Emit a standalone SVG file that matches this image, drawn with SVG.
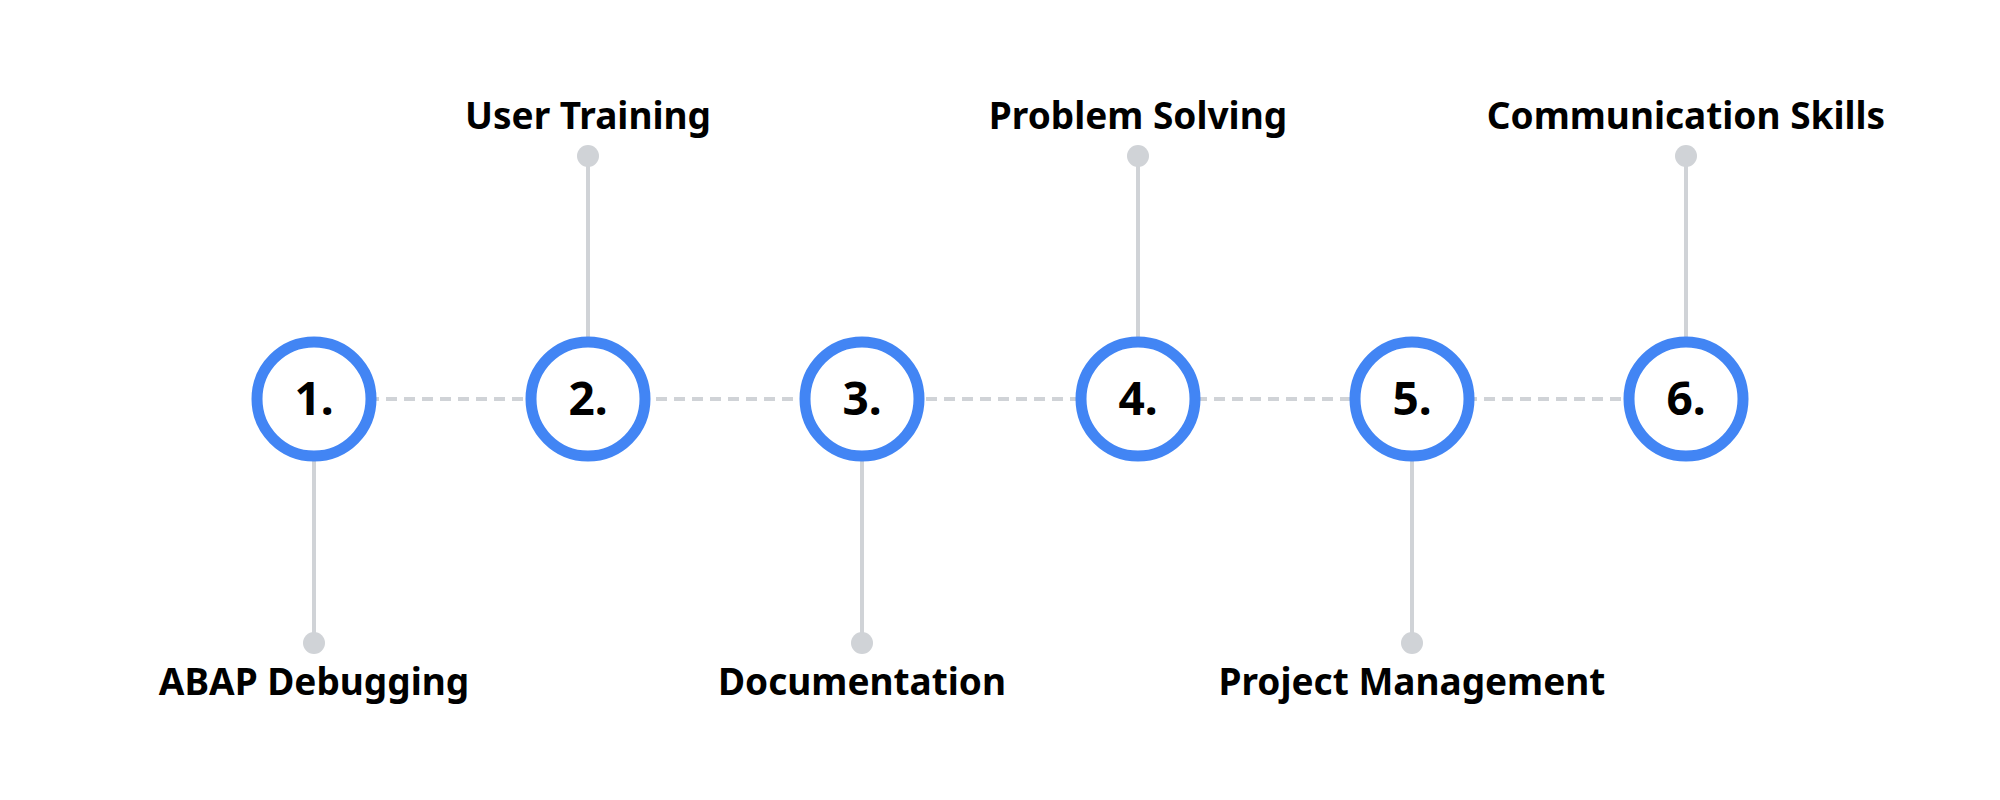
<svg xmlns="http://www.w3.org/2000/svg" width="2000" height="800" viewBox="0 0 2000 800">
<style>
.c{fill:#fff;stroke:#4285f4;stroke-width:11}
.n{font-family:"Noto Sans",sans-serif;font-weight:700;font-size:46px;fill:#000;text-anchor:middle}
.l{font-family:"Noto Sans",sans-serif;font-weight:700;font-size:37px;fill:#000;text-anchor:middle}
.v{stroke:#d0d3d7;stroke-width:4}
.d{fill:#d0d3d7}
.h{stroke:#d0d3d7;stroke-width:4;stroke-dasharray:11 7}
</style>
<rect width="2000" height="800" fill="#fff"/>
<g id="connectors">
<line class="h" x1="314" y1="399" x2="1686" y2="399"/>
<line class="v" x1="314" y1="399" x2="314" y2="643"/><circle class="d" cx="314" cy="643" r="11"/>
<line class="v" x1="588" y1="399" x2="588" y2="156"/><circle class="d" cx="588" cy="156" r="11"/>
<line class="v" x1="862" y1="399" x2="862" y2="643"/><circle class="d" cx="862" cy="643" r="11"/>
<line class="v" x1="1138" y1="399" x2="1138" y2="156"/><circle class="d" cx="1138" cy="156" r="11"/>
<line class="v" x1="1412" y1="399" x2="1412" y2="643"/><circle class="d" cx="1412" cy="643" r="11"/>
<line class="v" x1="1686" y1="399" x2="1686" y2="156"/><circle class="d" cx="1686" cy="156" r="11"/>
</g>
<g id="n1"><circle class="c" cx="314" cy="399" r="57"/><text class="n" x="314" y="415">1.</text><text class="l" x="314" y="695">ABAP Debugging</text></g>
<g id="n2"><circle class="c" cx="588" cy="399" r="57"/><text class="n" x="588" y="415">2.</text><text class="l" x="588" y="129">User Training</text></g>
<g id="n3"><circle class="c" cx="862" cy="399" r="57"/><text class="n" x="862" y="415">3.</text><text class="l" x="862" y="695">Documentation</text></g>
<g id="n4"><circle class="c" cx="1138" cy="399" r="57"/><text class="n" x="1138" y="415">4.</text><text class="l" x="1138" y="129">Problem Solving</text></g>
<g id="n5"><circle class="c" cx="1412" cy="399" r="57"/><text class="n" x="1412" y="415">5.</text><text class="l" x="1412" y="695">Project Management</text></g>
<g id="n6"><circle class="c" cx="1686" cy="399" r="57"/><text class="n" x="1686" y="415">6.</text><text class="l" x="1686" y="129">Communication Skills</text></g>
</svg>
